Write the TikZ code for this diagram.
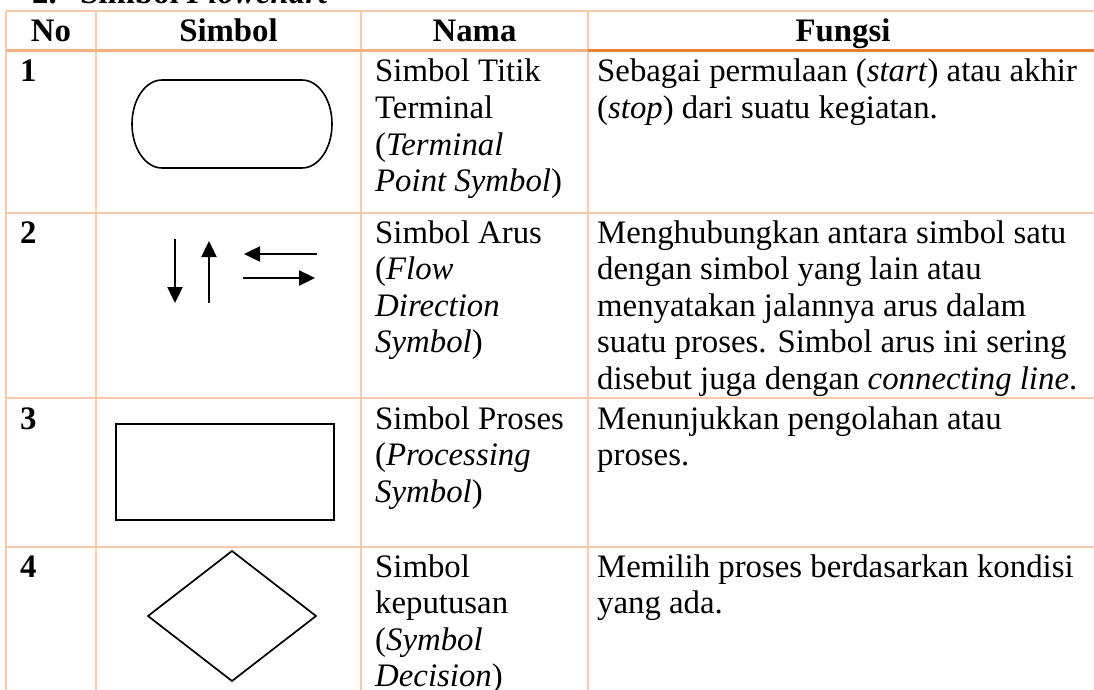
\documentclass[tikz,border=0pt]{standalone}
\usepackage{fontspec}
\setmainfont{Liberation Serif}
\usetikzlibrary{arrows.meta}
\definecolor{gridc}{HTML}{F7CAAC}
\definecolor{headc}{HTML}{F4B183}
\definecolor{headd}{HTML}{ED7D31}
\begin{document}
\begin{tikzpicture}[x=1pt,y=-1pt,
  txt/.style={anchor=base west,inner sep=0pt,font=\fontsize{32.8}{36.5}\selectfont},
  hdr/.style={anchor=base,inner sep=0pt,font=\fontsize{32.8}{36.5}\selectfont\bfseries},
  num/.style={anchor=base west,inner sep=0pt,font=\fontsize{32.8}{36.5}\selectfont\bfseries},
  grid/.style={draw=gridc,line width=1.5pt},
  symb/.style={draw=black,line width=1.8pt},
  flow/.style={draw=black,line width=2.4pt,-{Triangle[length=16pt,width=15pt]}}]
\useasboundingbox (0,0) rectangle (1094,690);
% title (cut off at the top)
\node[num] (t1) at (32,4) {2.};
\node[num] (t2) at (80,4) {Simbol \textit{Flowchart}};
% grid
\draw[grid] (6,11) -- (1100,11);
\foreach \x in {6,96,361,588} \draw[grid] (\x,11) -- (\x,700);
\foreach \y in {213,398,547} \draw[grid] (6,\y) -- (1100,\y);
\draw[draw=headc,line width=3pt] (6,51) -- (588,51);
\draw[draw=headd,line width=3pt] (588,51) -- (1100,51);
% header
\node[hdr] (h1) at (51,42) {No};
\node[hdr] (h2) at (228.5,42) {Simbol};
\node[hdr] (h3) at (474.5,42) {Nama};
\node[hdr] (h4) at (843,42) {Fungsi};
% numbers
\node[num] (r1) at (20,82) {1};
\node[num] (r2) at (20,243) {2};
\node[num] (r3) at (20,429) {3};
\node[num] (r4) at (20,577) {4};
% row 1
\foreach \t [count=\i from 0] in {{Simbol Titik},{Terminal},{(\textit{Terminal}},{\textit{Point Symbol})}}
  \node[txt] (na1-\i) at (375,82+36.5*\i) {\t};
\foreach \t [count=\i from 0] in {{Sebagai permulaan (\textit{start}) atau akhir},{(\textit{stop}) dari suatu kegiatan.}}
  \node[txt] (fu1-\i) at (597,82+36.5*\i) {\t};
% row 2
\foreach \t [count=\i from 0] in {{Simbol Arus},{(\textit{Flow}},{\textit{Direction}},{\textit{Symbol})}}
  \node[txt] (na2-\i) at (375,243+36.5*\i) {\t};
\foreach \t [count=\i from 0] in {{Menghubungkan antara simbol satu},{dengan simbol yang lain atau},{menyatakan jalannya arus dalam},{suatu proses. Simbol arus ini sering},{disebut juga dengan \textit{connecting line}.}}
  \node[txt] (fu2-\i) at (597,243+36.5*\i) {\t};
% row 3
\foreach \t [count=\i from 0] in {{Simbol Proses},{(\textit{Processing}},{\textit{Symbol})}}
  \node[txt] (na3-\i) at (375,429+36.5*\i) {\t};
\foreach \t [count=\i from 0] in {{Menunjukkan pengolahan atau},{proses.}}
  \node[txt] (fu3-\i) at (597,429+36.5*\i) {\t};
% row 4
\foreach \t [count=\i from 0] in {{Simbol},{keputusan},{(\textit{Symbol}},{\textit{Decision})}}
  \node[txt] (na4-\i) at (375,577+36.5*\i) {\t};
\foreach \t [count=\i from 0] in {{Memilih proses berdasarkan kondisi},{yang ada.}}
  \node[txt] (fu4-\i) at (597,577+36.5*\i) {\t};
% terminal symbol
\draw[symb,line width=1.6pt] (162,80) -- (302,80) arc[start angle=90,end angle=-90,x radius=30,y radius=-44]
  -- (162,168) arc[start angle=270,end angle=90,x radius=30,y radius=-44] -- cycle;
% flow arrows
\coordinate (d1) at (175,239); \coordinate (d2) at (175,303);
\coordinate (u1) at (209,303); \coordinate (u2) at (209,241);
\coordinate (l1) at (317,254); \coordinate (l2) at (244,254);
\coordinate (g1) at (243,278); \coordinate (g2) at (315,278);
\draw[flow] (d1) -- (d2);
\draw[flow] (u1) -- (u2);
\draw[flow] (l1) -- (l2);
\draw[flow] (g1) -- (g2);
% process symbol
\draw[symb,line width=2.2pt] (116,424) rectangle (334,520);
% decision symbol
\draw[symb,line width=1.7pt] (148,616) -- (232,551) -- (316,616) -- (232,681) -- cycle;
\end{tikzpicture}
\end{document}
